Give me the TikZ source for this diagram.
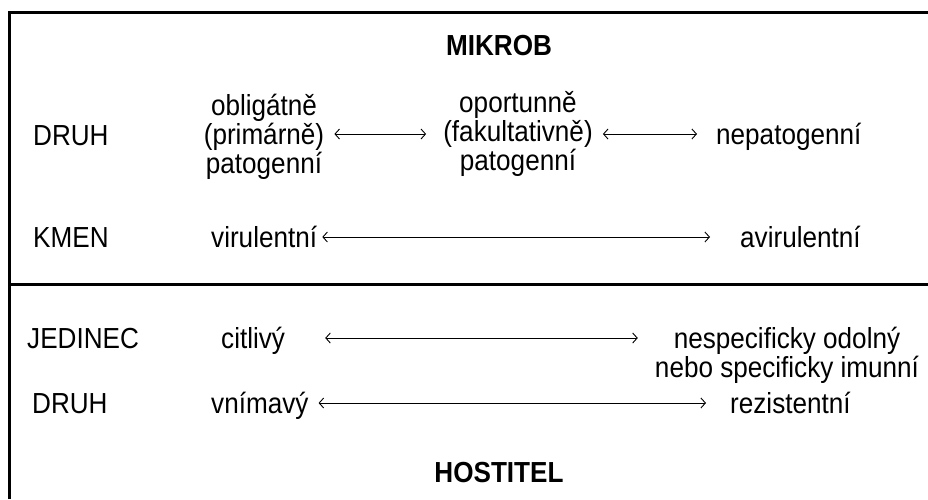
\documentclass[tikz,border=0pt]{standalone}
\usepackage{fontspec}
\setmainfont{Liberation Sans}[FakeStretch=0.9]
\usetikzlibrary{arrows.meta}
\begin{document}
\begin{tikzpicture}[x=1pt,y=-1pt,
  every node/.style={inner sep=0pt, font=\fontsize{29}{29}\selectfont},
  lbl/.style={anchor=base west},
  ttl/.style={anchor=base, font=\fontsize{29}{29}\selectfont\bfseries},
  frame/.style={line width=3pt},
  arr/.style={line width=0.9pt, {Straight Barb[length=4.5pt,width=10pt]}-{Straight Barb[length=4.5pt,width=10pt]}}]
\useasboundingbox (0,0) rectangle (928,499);
\fill[white] (0,0) rectangle (928,499);
% frame
\draw[frame] (9,499) -- (9,12) -- (928,12);
\draw[frame] (9,284) -- (928,284);
% titles
\node[ttl] (mikrob) at (499,55) {MIKROB};
\node[ttl] (host) at (499,482) {HOSTITEL};
% row coordinates for arrows
\coordinate (r1) at (0,134);
\coordinate (r2) at (0,237);
\coordinate (r3) at (0,338);
\coordinate (r4) at (0,403);
% microbe: species
\node[lbl] (druh1) at (33,145) {DRUH};
\node[align=center] (obl) at (264,137) {obligátně\\(primárně)\\patogenní};
\node[align=center] (opo) at (518,134) {oportunně\\(fakultativně)\\patogenní};
\node[lbl] (nep) at (716,144) {nepatogenní};
% microbe: strain
\node[lbl] (kmen) at (33,247) {KMEN};
\node[lbl] (vir) at (211,247) {virulentní};
\node[lbl] (avir) at (740,247) {avirulentní};
% host: individual
\node[lbl] (jed) at (27,348) {JEDINEC};
\node[lbl] (cit) at (221,348) {citlivý};
\node[align=center] (nesp) at (787,355) {nespecificky odolný\\nebo specificky imunní};
% host: species
\node[lbl] (druh2) at (32,413) {DRUH};
\node[lbl] (vnim) at (211,413) {vnímavý};
\node[lbl] (rez) at (730,413) {rezistentní};
% arrows
\draw[arr, shorten <=10pt, shorten >=17pt] (obl.east |- r1) -- (opo.west |- r1);
\draw[arr, shorten <=10pt, shorten >=19pt] (opo.east |- r1) -- (nep.west |- r1);
\draw[arr, shorten <=5pt, shorten >=30pt] (vir.east |- r2) -- (avir.west |- r2);
\draw[arr, shorten <=40pt, shorten >=17pt] (cit.east |- r3) -- (nesp.west |- r3);
\draw[arr, shorten <=10pt, shorten >=24pt] (vnim.east |- r4) -- (rez.west |- r4);
\end{tikzpicture}
\end{document}
